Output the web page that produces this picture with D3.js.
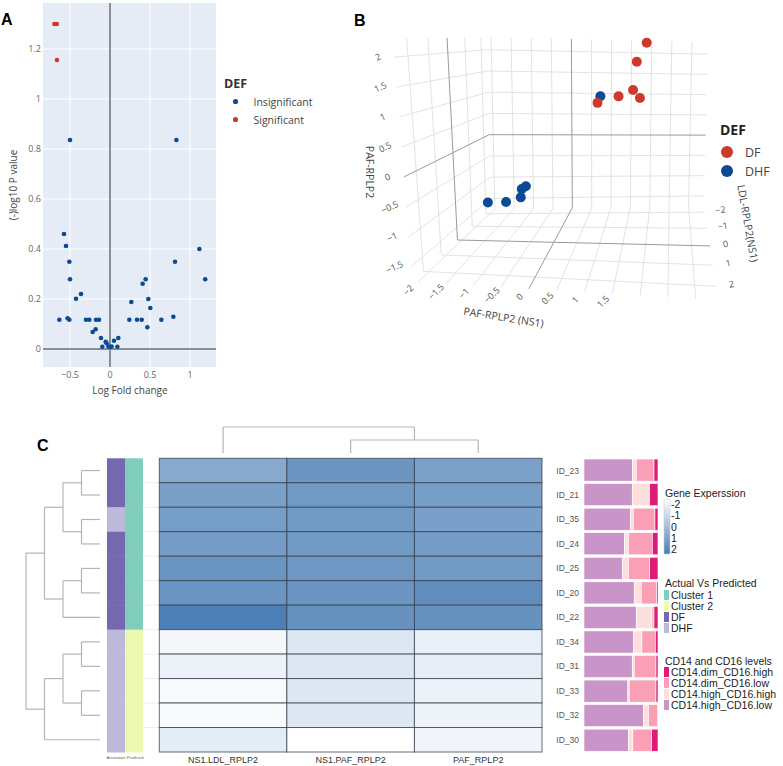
<!DOCTYPE html>
<html>
<head>
<meta charset="utf-8">
<script src="https://cdn.jsdelivr.net/npm/d3@7"></script>
<style>
body { margin:0; background:#fff; }
svg { display:block; }
</style>
</head>
<body>
<svg id="chart" width="783" height="766"></svg>
<script>
// ---------- panel A : volcano
var insigFC = [-0.5, 0.83, -0.575, -0.55, -0.508, -0.5, -0.633, -0.53, -0.508, -0.425, -0.3625, -0.3, -0.258, -0.175, -0.1375,
               -0.217, -0.179, -0.1125, -0.096, -0.054, -0.042, -0.02, 0, 0.02, 0.05, 0.092, 0.104, 0.242, 0.267, 0.3375,
               0.396, 0.408, 0.446, 0.479, 0.504, 0.467, 0.642, 0.792, 0.8125, 1.117, 1.19];
var insigP = [0.836, 0.836, 0.46, 0.412, 0.349, 0.279, 0.117, 0.123, 0.117, 0.201, 0.22, 0.117, 0.117, 0.117, 0.117,
              0.068, 0.079, 0.044, 0.009, 0.029, 0.023, 0.01, 0.008, 0.01, 0.033, 0.009, 0.044, 0.117, 0.188, 0.117,
              0.117, 0.261, 0.279, 0.2, 0.164, 0.087, 0.117, 0.129, 0.349, 0.4, 0.279];
var sigFC = [-0.695, -0.665, -0.663];
var sigP = [1.30, 1.30, 1.156];
var volcanoXTicks = [-0.5, 0, 0.5, 1];
var volcanoYTicks = [0, 0.2, 0.4, 0.6, 0.8, 1, 1.2];
var volcanoLegend = ["Insignificant", "Significant"];

// ---------- panel B : 3d scatter
var dfX = [1.9, 1.7, 1.7, 1.45, 1.82, 1.0];
var dfY = [-1.5, -1, 0.5, 1.0, 0, 0.5];
var dfZ = [2.26, 1.85, 1.37, 1.29, 1.17, 1.11];
var dhfX = [-0.97, -0.75, -0.55, -0.62, -0.58, 0.95];
var dhfY = [1.5, 1.0, 0.6, 0.2, 0.0, -0.5];
var dhfZ = [-0.62, -0.72, -0.72, -0.65, -0.64, 1.14];
var sceneXTicks = [-2, -1.5, -1, -0.5, 0, 0.5, 1, 1.5];
var sceneXGrid = [-2, -1.5, -1, -0.5, 0, 0.5, 1, 1.5, 2, 2.5, 3];
var sceneYTicks = [-2, -1, 0, 1, 2];
var sceneZTicks = [-1.5, -1, -0.5, 0, 0.5, 1, 1.5, 2];

// ---------- panel C : heatmap
var rowIds = ["ID_23", "ID_21", "ID_35", "ID_24", "ID_25", "ID_20", "ID_22", "ID_34", "ID_31", "ID_33", "ID_32", "ID_30"];
var geneCols = ["NS1.LDL_RPLP2", "NS1.PAF_RPLP2", "PAF_RPLP2"];
var exprNS1LDL = [0.65, 0.95, 1.0, 1.05, 1.3, 1.3, 1.95, -1.75, -1.6, -1.85, -1.85, -1.4];
var exprNS1PAF = [1.25, 1.15, 1.1, 1.15, 1.2, 1.25, 1.35, -1.25, -1.25, -1.25, -1.3, -2.0];
var exprPAF = [0.9, 1.0, 0.95, 1.05, 1.1, 1.5, 1.4, -1.5, -1.45, -1.6, -1.65, -1.7];
var annotation = ["DF", "DF", "DHF", "DF", "DF", "DF", "DF", "DHF", "DHF", "DHF", "DHF", "DHF"];
var predicted = ["Cluster 1", "Cluster 1", "Cluster 1", "Cluster 1", "Cluster 1", "Cluster 1", "Cluster 1",
                 "Cluster 2", "Cluster 2", "Cluster 2", "Cluster 2", "Cluster 2"];
var monoLevels = ["CD14.high_CD16.low", "CD14.high_CD16.high", "CD14.dim_CD16.low", "CD14.dim_CD16.high"];
var highLow = [65.6, 65.2, 62.9, 54.8, 52.0, 67.9, 70.6, 67.0, 65.2, 59.3, 80.5, 60.2];
var highHigh = [5.0, 23.0, 3.6, 5.4, 8.1, 9.5, 21.3, 11.3, 2.7, 1.8, 6.8, 5.9];
var dimLow = [24.0, 0.5, 29.4, 32.1, 28.6, 20.8, 2.7, 18.1, 29.4, 36.2, 12.2, 25.3];
var dimHigh = [5.4, 11.3, 4.1, 7.7, 11.3, 1.8, 5.4, 3.6, 2.7, 2.7, 0.5, 8.6];
var legendExpr = [-2, -1, 0, 1, 2];
// row dendrogram (leaf = row index), merge heights
var rowTree = {h: 4, c: [
  {h: 3, c: [{h: 2, c: [{h: 1, c: [0, 1]}, {h: 1, c: [2, 3]}]}, {h: 2, c: [{h: 1, c: [4, 5]}, 6]}]},
  {h: 3, c: [{h: 2, c: [{h: 1, c: [7, 8]}, {h: 1, c: [9, 10]}]}, 11]}
]};
var colTree = {h: 2, c: [0, {h: 1, c: [1, 2]}]};

var svg = d3.select("#chart");
var plotlyFont = "'Open Sans', 'Liberation Sans', Arial, sans-serif";
var rFont = "'Liberation Sans', Arial, sans-serif";
var blue = "#0d4a94", red = "#cb3a2a";

// panel letters
svg.append("text").attr("x", 1).attr("y", 25).text("A");
svg.append("text").attr("x", 354).attr("y", 26).text("B");
svg.append("text").attr("x", 37).attr("y", 451).text("C");
svg.selectAll("text").attr("font-family", rFont).attr("font-weight", "bold").attr("font-size", 16);

// =============== A ===============
var ax = d3.scaleLinear().domain([-0.8375, 1.325]).range([43, 216]);
var ay = d3.scaleLinear().domain([-0.072, 1.384]).range([367, 3]);
var gA = svg.append("g");
gA.append("rect").attr("x", ax.range()[0]).attr("y", ay.range()[1])
  .attr("width", ax.range()[1] - ax.range()[0]).attr("height", ay.range()[0] - ay.range()[1])
  .attr("fill", "#e5ecf6");
gA.selectAll(".gx").data(volcanoXTicks.filter(function(d) { return d !== 0; })).enter().append("line")
  .attr("x1", ax).attr("x2", ax).attr("y1", 3).attr("y2", 367).attr("stroke", "#fff");
gA.selectAll(".gy").data(volcanoYTicks.filter(function(d) { return d !== 0; })).enter().append("line")
  .attr("y1", ay).attr("y2", ay).attr("x1", 43).attr("x2", 216).attr("stroke", "#fff");
gA.append("line").attr("x1", ax(0)).attr("x2", ax(0)).attr("y1", 3).attr("y2", 367).attr("stroke", "#8a8f96").attr("stroke-width", 2);
gA.append("line").attr("y1", ay(0)).attr("y2", ay(0)).attr("x1", 43).attr("x2", 216).attr("stroke", "#8a8f96").attr("stroke-width", 2);

gA.selectAll(".ins").data(insigFC).enter().append("circle")
  .attr("cx", function(d) { return ax(d); })
  .attr("cy", function(d, i) { return ay(insigP[i]); })
  .attr("r", 2.3).attr("fill", blue);
gA.selectAll(".sig").data(sigFC).enter().append("circle")
  .attr("cx", function(d) { return ax(d); })
  .attr("cy", function(d, i) { return ay(sigP[i]); })
  .attr("r", 2.3).attr("fill", red);

var fmt = function(d) { return d < 0 ? "\u2212" + Math.abs(d) : String(d); };
gA.selectAll(".ty").data(volcanoYTicks).enter().append("text")
  .attr("x", 41).attr("y", function(d) { return ay(d) + 3; })
  .attr("text-anchor", "end").text(fmt);
gA.selectAll(".tx").data(volcanoXTicks).enter().append("text")
  .attr("x", ax).attr("y", 378)
  .attr("text-anchor", "middle").text(fmt);
gA.selectAll("text").attr("font-family", plotlyFont).attr("font-size", 9).attr("fill", "#666");
gA.append("text").attr("x", 130).attr("y", 394).attr("text-anchor", "middle")
  .attr("font-family", plotlyFont).attr("font-size", 10).attr("fill", "#444").text("Log Fold change");
gA.append("text").attr("transform", "translate(17,185) rotate(-90)").attr("text-anchor", "middle")
  .attr("font-family", plotlyFont).attr("font-size", 10).attr("fill", "#444").text("(-)log10 P value");

gA.append("text").attr("x", 224).attr("y", 88).attr("font-family", plotlyFont)
  .attr("font-size", 12.5).attr("font-weight", "bold").attr("fill", "#333").text("DEF");
var legA = gA.selectAll(".legA").data(volcanoLegend).enter().append("g")
  .attr("transform", function(d, i) { return "translate(235.5," + (101.5 + i * 18) + ")"; });
legA.append("circle").attr("r", 2.6).attr("fill", function(d, i) { return i ? red : blue; });
legA.append("text").attr("x", 18).attr("y", 4).attr("font-family", plotlyFont)
  .attr("font-size", 10.5).attr("fill", "#444").text(function(d) { return d; });

// =============== B ===============
var gB = svg.append("g");
var sx = d3.scaleLinear().domain([-2.1, 3.4]).range([0, 1]);
var sy = d3.scaleLinear().domain([2.6, -2.4]).range([0, 1]);   // 0 = front, 1 = back
var sz = d3.scaleLinear().domain([-1.75, 2.3]).range([0, 1]);
var persp = 0.25;
var front = {lb: [412, 282], rb: [718, 300], lt: [393, 39], rt: [734, 44]};
var back = {lb: [491, 209], rb: [704, 206], lt: [487, 37], rt: [708, 42]};
function lerp(a, b, t) { return [a[0] + (b[0] - a[0]) * t, a[1] + (b[1] - a[1]) * t]; }
function proj(x, y, z) {
  var u = sx(x), t = sy(y), w = sz(z);
  t = t * (1 + persp) / (1 + persp * t);
  var f = lerp(lerp(front.lb, front.rb, u), lerp(front.lt, front.rt, u), w);
  var b = lerp(lerp(back.lb, back.rb, u), lerp(back.lt, back.rt, u), w);
  return lerp(f, b, t);
}
var X0 = sx.domain()[0], X1 = sx.domain()[1], Yf = sy.domain()[0], Yb = sy.domain()[1], Z0 = sz.domain()[0], Z1 = sz.domain()[1];
var gridSegs = [];
sceneZTicks.forEach(function(z) {
  gridSegs.push({a: proj(X0, Yf, z), b: proj(X0, Yb, z), zero: z === 0});
  gridSegs.push({a: proj(X0, Yb, z), b: proj(X1, Yb, z), zero: z === 0});
});
sceneYTicks.forEach(function(y) {
  gridSegs.push({a: proj(X0, y, Z0), b: proj(X0, y, Z1), zero: y === 0});
  gridSegs.push({a: proj(X0, y, Z0), b: proj(X1, y, Z0), zero: y === 0});
});
sceneXGrid.forEach(function(x) {
  gridSegs.push({a: proj(x, Yb, Z0), b: proj(x, Yb, Z1), zero: x === 0});
  gridSegs.push({a: proj(x, Yf, Z0), b: proj(x, Yb, Z0), zero: x === 0});
});
gB.selectAll(".grid").data(gridSegs.filter(function(d) { return !d.zero; })).enter().append("line")
  .attr("x1", function(d) { return d.a[0]; }).attr("y1", function(d) { return d.a[1]; })
  .attr("x2", function(d) { return d.b[0]; }).attr("y2", function(d) { return d.b[1]; })
  .attr("stroke", "#e3e3e3").attr("stroke-width", 1);
gB.selectAll(".zero").data(gridSegs.filter(function(d) { return d.zero; })).enter().append("line")
  .attr("x1", function(d) { return d.a[0]; }).attr("y1", function(d) { return d.a[1]; })
  .attr("x2", function(d) { return d.b[0]; }).attr("y2", function(d) { return d.b[1]; })
  .attr("stroke", "#9a9a9a").attr("stroke-width", 1);

var pts = [];
dfX.forEach(function(d, i) { pts.push({x: d, y: dfY[i], z: dfZ[i], c: red}); });
dhfX.forEach(function(d, i) { pts.push({x: d, y: dhfY[i], z: dhfZ[i], c: blue}); });
pts.sort(function(a, b) { return a.y - b.y; });
gB.selectAll(".pt").data(pts).enter().append("circle")
  .attr("cx", function(d) { return proj(d.x, d.y, d.z)[0]; })
  .attr("cy", function(d) { return proj(d.x, d.y, d.z)[1]; })
  .attr("r", 5).attr("fill", function(d) { return d.c; });

var tickG = gB.append("g").attr("font-family", plotlyFont).attr("font-size", 9).attr("fill", "#555").attr("text-anchor", "middle");
tickG.selectAll(".tz").data(sceneZTicks).enter().append("text")
  .attr("transform", function(d) { var p = proj(X0, Yf, d); return "translate(" + (p[0] - 15) + "," + (p[1] + 3) + ") rotate(-25)"; })
  .text(fmt);
tickG.selectAll(".tx").data(sceneXTicks).enter().append("text")
  .attr("transform", function(d) { var p = proj(d, Yf, Z0); return "translate(" + (p[0] - 7) + "," + (p[1] + 10) + ") rotate(-45)"; })
  .text(fmt);
tickG.selectAll(".ty").data(sceneYTicks).enter().append("text")
  .attr("transform", function(d) { var p = proj(X1, d, Z0); return "translate(" + (p[0] + 16) + "," + (p[1] + 1) + ") rotate(-10)"; })
  .text(fmt);
var titleG = gB.append("g").attr("font-family", plotlyFont).attr("font-size", 10.5).attr("fill", "#444").attr("text-anchor", "middle");
titleG.append("text").attr("transform", "translate(366,172) rotate(90)").text("PAF-RPLP2");
titleG.append("text").attr("transform", "translate(503,321) rotate(9)").text("PAF-RPLP2 (NS1)");
titleG.append("text").attr("transform", "translate(744,224) rotate(80)").text("LDL-RPLP2(NS1)");

gB.append("text").attr("x", 720).attr("y", 135).attr("font-family", plotlyFont)
  .attr("font-size", 14).attr("font-weight", "bold").attr("fill", "#222").text("DEF");
var legB = gB.selectAll(".legB").data(["DF", "DHF"]).enter().append("g")
  .attr("transform", function(d, i) { return "translate(727," + (152 + i * 19) + ")"; });
legB.append("circle").attr("r", 6).attr("fill", function(d, i) { return i ? blue : red; });
legB.append("text").attr("x", 18).attr("y", 5).attr("font-family", plotlyFont)
  .attr("font-size", 12.5).attr("fill", "#444").text(function(d) { return d; });

// =============== C ===============
var gC = svg.append("g").attr("font-family", rFont);
var hy = d3.scaleBand().domain(rowIds).range([458.3, 752]);
var hx = d3.scaleBand().domain(geneCols).range([159.3, 542]);
var annX = d3.scaleBand().domain(["Annotation", "Predicted"]).range([107, 143]);
var heatColor = d3.scaleLinear().domain([-2, 2]).range(["#ffffff", "#4a7db4"]);
var annColor = d3.scaleOrdinal().domain(["Cluster 1", "Cluster 2", "DF", "DHF"]).range(["#80cdbb", "#edf8b1", "#7667ae", "#bcb9db"]);
var monoColor = d3.scaleOrdinal().domain(monoLevels).range(["#c994c7", "#fde0dd", "#fa9fb5", "#dd1c77"]);

// faint row guides between annotation and heatmap
gC.selectAll(".guide").data(rowIds.slice(1)).enter().append("line")
  .attr("x1", 143).attr("x2", 159).attr("y1", hy).attr("y2", hy).attr("stroke", "#eeeeee");

var cells = [];
rowIds.forEach(function(id, i) {
  cells.push({row: id, col: geneCols[0], v: exprNS1LDL[i]});
  cells.push({row: id, col: geneCols[1], v: exprNS1PAF[i]});
  cells.push({row: id, col: geneCols[2], v: exprPAF[i]});
});
gC.selectAll(".cell").data(cells).enter().append("rect")
  .attr("x", function(d) { return hx(d.col); }).attr("y", function(d) { return hy(d.row); })
  .attr("width", hx.bandwidth()).attr("height", hy.bandwidth())
  .attr("fill", function(d) { return heatColor(d.v); })
  .attr("stroke", "rgba(50,60,75,0.75)").attr("stroke-width", 1);

gC.selectAll(".ann").data(rowIds).enter().append("rect")
  .attr("x", annX("Annotation")).attr("y", hy).attr("width", annX.bandwidth()).attr("height", hy.bandwidth() + 0.5)
  .attr("fill", function(d, i) { return annColor(annotation[i]); });
gC.selectAll(".pred").data(rowIds).enter().append("rect")
  .attr("x", annX("Predicted")).attr("y", hy).attr("width", annX.bandwidth()).attr("height", hy.bandwidth() + 0.5)
  .attr("fill", function(d, i) { return annColor(predicted[i]); });
gC.append("text").attr("x", 125).attr("y", 759).attr("text-anchor", "middle").attr("font-size", 4)
  .attr("fill", "#666").text("Annotation Predicted");

// row dendrogram
var rowH = d3.scaleLinear().domain([0, 4]).range([100, 26]);
function drawRowTree(n) {
  if (typeof n === "number") return {y: hy(rowIds[n]) + hy.bandwidth() / 2, h: 0};
  var kids = n.c.map(drawRowTree);
  var x = rowH(n.h);
  kids.forEach(function(k) {
    gC.append("line").attr("x1", x).attr("x2", rowH(k.h)).attr("y1", k.y).attr("y2", k.y);
  });
  gC.append("line").attr("x1", x).attr("x2", x).attr("y1", kids[0].y).attr("y2", kids[kids.length - 1].y);
  return {y: (kids[0].y + kids[kids.length - 1].y) / 2, h: n.h};
}
drawRowTree(rowTree);
var colH = d3.scaleLinear().domain([0, 2]).range([453, 427]);
function drawColTree(n) {
  if (typeof n === "number") return {x: hx(geneCols[n]) + hx.bandwidth() / 2, h: 0};
  var kids = n.c.map(drawColTree);
  var y = colH(n.h);
  kids.forEach(function(k) {
    gC.append("line").attr("x1", k.x).attr("x2", k.x).attr("y1", y).attr("y2", colH(k.h));
  });
  gC.append("line").attr("x1", kids[0].x).attr("x2", kids[kids.length - 1].x).attr("y1", y).attr("y2", y);
  return {x: (kids[0].x + kids[kids.length - 1].x) / 2, h: n.h};
}
drawColTree(colTree);
gC.selectAll("line").filter(function() { return !this.getAttribute("stroke"); })
  .attr("stroke", "#b4b4b4").attr("stroke-width", 1.2);

gC.selectAll(".clab").data(geneCols).enter().append("text")
  .attr("x", function(d) { return hx(d) + hx.bandwidth() / 2; }).attr("y", 763)
  .attr("text-anchor", "middle").attr("font-size", 9).attr("fill", "#333").text(function(d) { return d; });

// stacked bars
var bx = d3.scaleLinear().domain([0, 100]).range([584, 658]);
var by = d3.scaleBand().domain(rowIds).range([458.3, 752]).paddingInner(0.1).paddingOuter(0.03);
var stackData = rowIds.map(function(id, i) {
  return {id: id, "CD14.high_CD16.low": highLow[i], "CD14.high_CD16.high": highHigh[i],
          "CD14.dim_CD16.low": dimLow[i], "CD14.dim_CD16.high": dimHigh[i]};
});
var series = d3.stack().keys(monoLevels)(stackData);
gC.selectAll(".ser").data(series).enter().append("g")
  .attr("fill", function(d) { return monoColor(d.key); })
  .selectAll("rect").data(function(d) { return d; }).enter().append("rect")
  .attr("x", function(d) { return bx(d[0]); })
  .attr("width", function(d) { return Math.max(0, bx(d[1]) - bx(d[0])); })
  .attr("y", function(d) { return by(d.data.id); })
  .attr("height", by.bandwidth())
  .attr("stroke", "#fff").attr("stroke-width", 0.6);
gC.selectAll(".rlab").data(rowIds).enter().append("text")
  .attr("x", 579).attr("y", function(d) { return hy(d) + hy.bandwidth() / 2 + 3; })
  .attr("text-anchor", "end").attr("font-size", 8.5).attr("fill", "#555").text(function(d) { return d; });

// legends
var lg = gC.append("g").attr("font-size", 10.5).attr("fill", "#222");
lg.append("text").attr("x", 665).attr("y", 497).text("Gene Experssion");
var grad = svg.append("defs").append("linearGradient").attr("id", "exprGrad")
  .attr("x1", 0).attr("x2", 0).attr("y1", 0).attr("y2", 1);
grad.selectAll("stop").data(legendExpr).enter().append("stop")
  .attr("offset", function(d, i) { return i / (legendExpr.length - 1); })
  .attr("stop-color", heatColor);
var ly = d3.scaleLinear().domain([-2, 2]).range([504, 549]);
lg.append("rect").attr("x", 664).attr("y", 499).attr("width", 6).attr("height", 55)
  .attr("fill", "url(#exprGrad)").attr("stroke", "#ccc").attr("stroke-width", 0.5);
lg.selectAll(".el").data(legendExpr).enter().append("text")
  .attr("x", 671).attr("y", function(d) { return ly(d) + 4; }).text(function(d) { return d; });

lg.append("text").attr("x", 665).attr("y", 587).text("Actual Vs Predicted");
var annKeys = annColor.domain();
lg.selectAll(".as").data(annKeys).enter().append("rect")
  .attr("x", 664).attr("y", function(d, i) { return 590 + i * 11; }).attr("width", 5).attr("height", 10)
  .attr("fill", annColor);
lg.selectAll(".at").data(annKeys).enter().append("text")
  .attr("x", 671).attr("y", function(d, i) { return 599 + i * 11; }).text(function(d) { return d; });

lg.append("text").attr("x", 665).attr("y", 665).text("CD14 and CD16 levels");
var monoKeys = monoLevels.slice().reverse();
lg.selectAll(".ms").data(monoKeys).enter().append("rect")
  .attr("x", 664).attr("y", function(d, i) { return 667 + i * 11; }).attr("width", 5).attr("height", 10)
  .attr("fill", monoColor);
lg.selectAll(".mt").data(monoKeys).enter().append("text")
  .attr("x", 671).attr("y", function(d, i) { return 676 + i * 11; }).text(function(d) { return d; });
</script>
</body>
</html>
